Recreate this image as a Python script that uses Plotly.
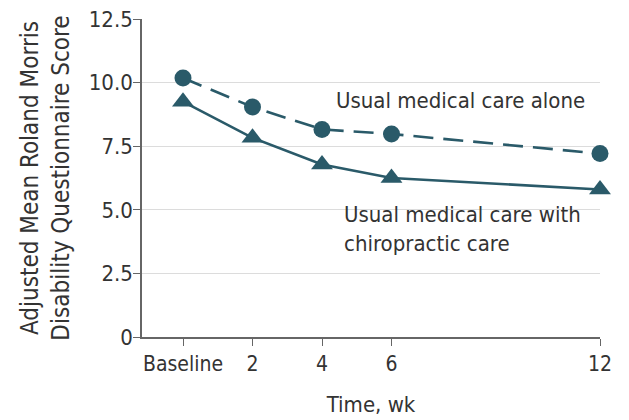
import plotly.graph_objects as go

weeks = [0, 2, 4, 6, 12]
tick_labels = ["Baseline", "2", "4", "6", "12"]
usual_alone = [10.18, 9.04, 8.16, 7.98, 7.21]
with_chiro = [9.25, 7.83, 6.78, 6.25, 5.8]

color = "#2a5a69"
font_family = "DejaVu Sans Condensed, Liberation Sans Narrow, sans-serif"

fig = go.Figure()
fig.add_trace(go.Scatter(
    x=weeks, y=usual_alone, mode="lines+markers",
    line=dict(color=color, width=2.6, dash="20px,10px"),
    marker=dict(symbol="circle", size=17, color=color),
    name="Usual medical care alone", cliponaxis=False))
fig.add_trace(go.Scatter(
    x=weeks, y=with_chiro, mode="lines+markers",
    line=dict(color=color, width=2.6),
    marker=dict(symbol="triangle-up", size=19, color=color),
    name="Usual medical care with chiropractic care", cliponaxis=False))

fig.add_annotation(x=4.35, y=9.28, text="Usual medical care alone", showarrow=False,
                   xanchor="left", yanchor="middle", font=dict(size=22, color="#333"))
fig.add_annotation(x=4.58, y=4.23, text="Usual medical care with<br>chiropractic care",
                   showarrow=False, xanchor="left", yanchor="middle", align="left",
                   font=dict(size=22, color="#333"))

fig.update_layout(
    width=621, height=412,
    margin=dict(l=134, r=29, t=11, b=83),
    plot_bgcolor="white", paper_bgcolor="white",
    showlegend=False,
    font=dict(family=font_family, size=21, color="#333"),
    xaxis=dict(range=[-1.18, 12], tickvals=weeks, ticktext=tick_labels,
               showgrid=False, zeroline=False, showline=True, linecolor="#666",
               linewidth=1.5, ticks="outside", ticklen=7, tickcolor="#666",
               tickfont=dict(size=21), automargin=False, ticklabeloverflow="allow",
               title=dict(text="Time, wk", standoff=22, font=dict(size=22))),
    yaxis=dict(range=[0, 12.5], tickvals=[0, 2.5, 5, 7.5, 10, 12.5],
               ticktext=["0", "2.5", "5.0", "7.5", "10.0", "12.5"],
               showgrid=True, gridcolor="#dcdcdc", gridwidth=1.2, zeroline=False,
               showline=True, linecolor="#666", linewidth=1.5,
               ticks="outside", ticklen=7, tickcolor="#666",
               tickfont=dict(size=22), automargin=False, ticklabeloverflow="allow",
               ticklabelstandoff=-4,
               title=dict(text="Adjusted Mean Roland Morris<br>Disability Questionnaire Score",
                          standoff=12, font=dict(size=24))),
)

fig.write_html("out.html")
